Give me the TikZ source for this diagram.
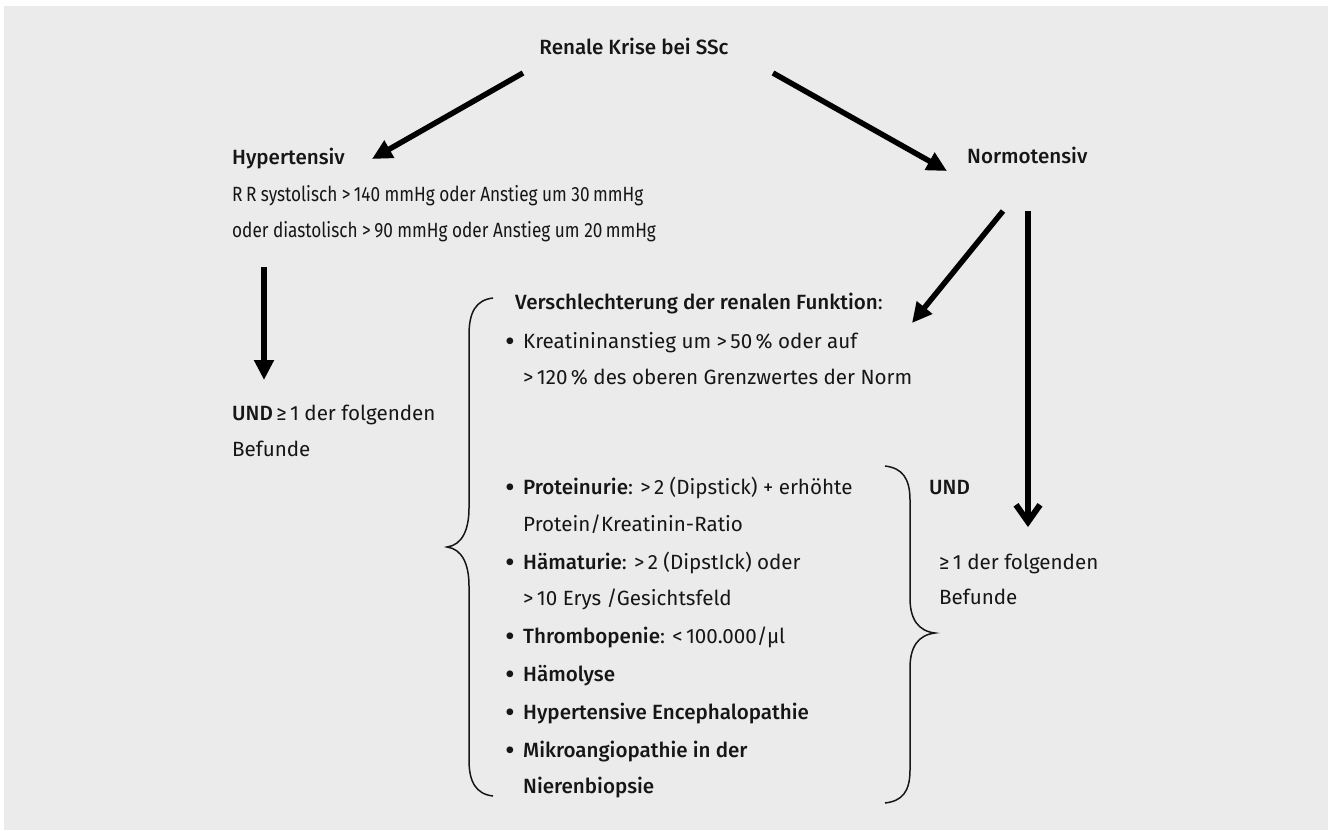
\documentclass[tikz,border=0pt]{standalone}
\usepackage{fontspec}
\usepackage{graphicx}
\setmainfont{Fira Sans}[BoldFont={Fira Sans Medium}]
\newfontfamily\narrowfont{Fira Sans}[FakeStretch=0.835]
\usetikzlibrary{arrows.meta}
\definecolor{panel}{HTML}{EBEBEB}
\definecolor{ink}{HTML}{161616}
\newcommand{\bul}{\makebox[18pt][l]{\raisebox{-2.6pt}{\scalebox{1.45}{•}}}}
\begin{document}
\begin{tikzpicture}[x=1pt,y=-1pt,
  txt/.style={anchor=mid west, inner sep=0pt, text=ink, font=\fontsize{20.6}{24}\selectfont},
  hd/.style={txt, font=\fontsize{20.6}{24}\selectfont\bfseries},
  nar/.style={txt, font=\fontsize{20.6}{24}\selectfont\narrowfont},
  arr/.style={draw=black, line width=5.5pt, -{Triangle[length=20pt,width=19pt]}},
  barb/.style={draw=black, line width=6pt, -{Straight Barb[length=17pt,width=24pt]}},
  brace/.style={draw=ink, line width=1.5pt}
]
\useasboundingbox (0,0) rectangle (1330,830);
\fill[white] (0,0) rectangle (1330,830);
\fill[panel] (4,6) rectangle (1328,830);

% texts
\node[hd, anchor=mid] (krise) at (634,52) {Renale Krise bei SSc};
\node[hd] (hyper) at (232,162) {Hypertensiv};
\node[nar] (hyp1) at (232,199) {R\,R systolisch >\,140 mmHg oder Anstieg um 30\,mmHg};
\node[nar] (hyp2) at (232,235) {oder diastolisch >\,90 mmHg oder Anstieg um 20\,mmHg};
\node[txt] (und1) at (232,418) {\textbf{UND}\,≥\,1 der folgenden};
\node[txt] (bef1) at (232,454) {Befunde};
\node[hd] (norm) at (967,161) {Normotensiv};
\node[txt] (versch) at (515,307) {\textbf{Verschlechterung der renalen Funktion}:};
\node[txt] (k1) at (505,346) {\bul Kreatininanstieg um >\,50\,\% oder auf};
\node[txt] (k2) at (523,382) {>\,120\,\% des oberen Grenzwertes der Norm};
\node[txt] (l1) at (505,492) {\bul\textbf{Proteinurie}: >\,2 (Dipstick) + erhöhte};
\node[txt] (l1b) at (523,529) {Protein/Kreatinin-Ratio};
\node[txt] (l2) at (505,567) {\bul\textbf{Hämaturie}: >\,2 (DipstIck) oder};
\node[txt] (l2b) at (523,603) {>\,10 Erys /Gesichtsfeld};
\node[txt] (l3) at (505,641) {\bul\textbf{Thrombopenie}: <\,100.000/µl};
\node[txt] (l4) at (505,679) {\bul\textbf{Hämolyse}};
\node[txt] (l5) at (505,717) {\bul\textbf{Hypertensive Encephalopathie}};
\node[txt] (l6) at (505,755) {\bul\textbf{Mikroangiopathie in der}};
\node[txt] (l6b) at (523,791) {\textbf{Nierenbiopsie}};
\node[hd] (und2) at (929,492) {UND};
\node[txt] (und3) at (939,567) {≥\,1 der folgenden};
\node[txt] (bef2) at (939,602) {Befunde};

% arrow end points
\coordinate (a1s) at (523,73);  \coordinate (a1e) at (372,159);
\coordinate (a2s) at (773,73);  \coordinate (a2e) at (947,171);
\coordinate (a3s) at (264,267); \coordinate (a3e) at (264,380);
\coordinate (a4s) at (1003,211); \coordinate (a4e) at (912,323);
\coordinate (a5s) at (1028,211); \coordinate (a5e) at (1028,527);
\draw[arr] (a1s) -- (a1e);
\draw[arr] (a2s) -- (a2e);
\draw[arr, line width=6pt] (a3s) -- (a3e);
\draw[arr] (a4s) -- (a4e);
\draw[barb] (a5s) -- (a5e);

% left brace
\draw[brace] (493,298) .. controls (476,300) and (469,312) .. (469,335)
  -- (469,508) .. controls (469,530) and (462,545) .. (447,547)
  .. controls (462,549) and (469,564) .. (469,586)
  -- (469,760) .. controls (469,782) and (476,794) .. (493,796);
% right brace
\draw[brace] (885,466) .. controls (902,468) and (910,478) .. (910,500)
  -- (910,598) .. controls (910,619) and (918,631) .. (935,633)
  .. controls (918,635) and (910,647) .. (910,668)
  -- (910,770) .. controls (910,792) and (902,801) .. (885,803);
\end{tikzpicture}
\end{document}
